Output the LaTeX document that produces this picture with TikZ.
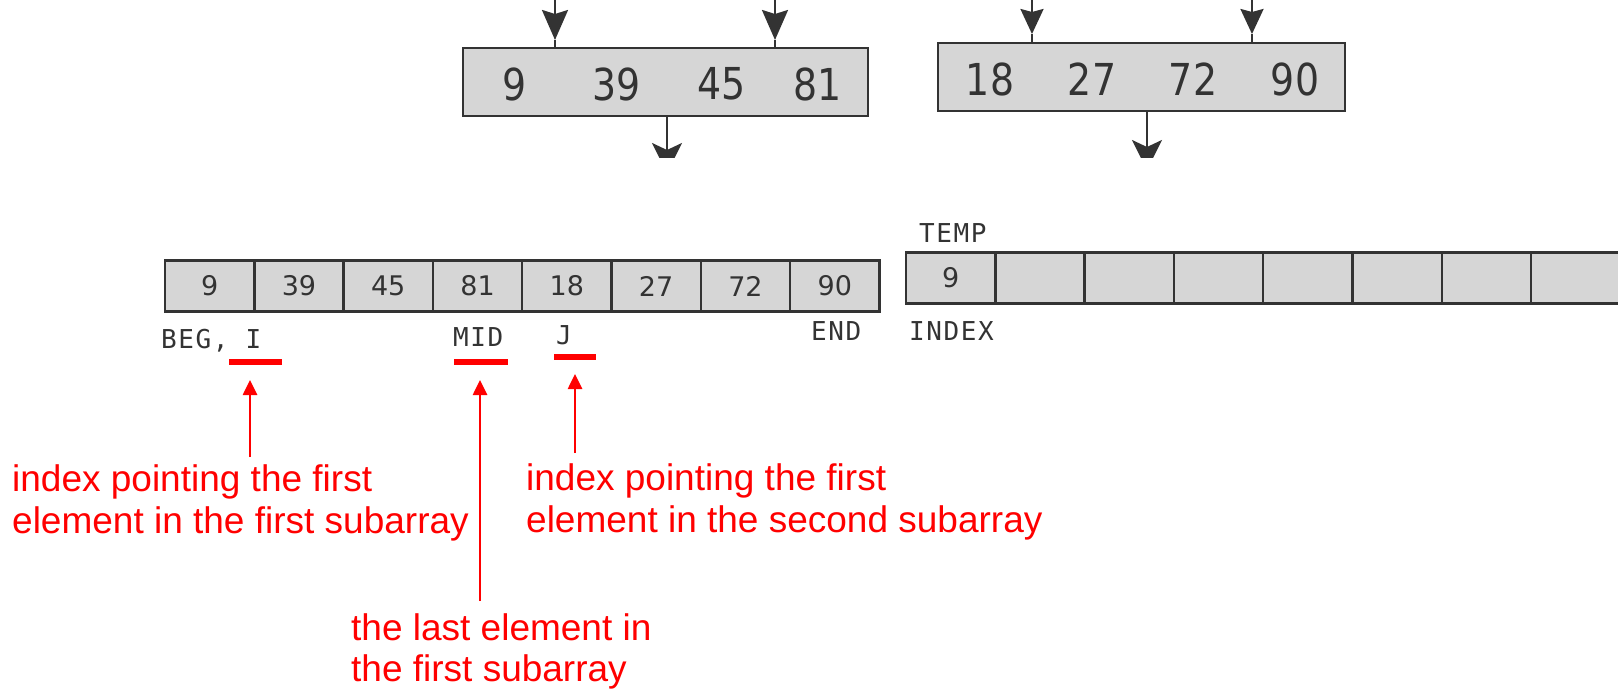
\documentclass[tikz,border=0pt]{standalone}
\usepackage{fontspec}
\setmainfont{Liberation Sans}
\newfontfamily\numfont{DejaVu Sans}
\newfontfamily\numcondfont[FakeStretch=0.86]{DejaVu Sans}
\newfontfamily\labfont[LetterSpace=6]{DejaVu Sans Mono}
\usetikzlibrary{arrows.meta}
\definecolor{ink}{HTML}{333333}
\definecolor{cellfill}{HTML}{D6D6D6}
\definecolor{note}{HTML}{FF0000}
\begin{document}
\begin{tikzpicture}[x=1pt,y=-1pt,
  cell/.style={draw=ink, line width=2.4pt, fill=cellfill,
    minimum width=89.3pt, minimum height=51pt, inner sep=0pt,
    text=ink, font={\numfont\fontsize{27pt}{30pt}\selectfont}},
  bigbox/.style={draw=ink, line width=2.6pt, fill=cellfill,
    minimum height=68pt, inner sep=0pt},
  bignum/.style={inner sep=0pt, text=ink,
    font={\numcondfont\fontsize{44pt}{48pt}\selectfont}},
  lab/.style={inner sep=0pt, anchor=base west, text=ink,
    font={\labfont\fontsize{26pt}{30pt}\selectfont}},
  feedhead/.style={draw=ink, line width=2.4pt,
    -{Stealth[length=30pt,width=26pt,inset=4pt]}},
  feedline/.style={draw=ink, line width=2.4pt},
  uline/.style={fill=note, draw=none, inner sep=0pt, minimum height=5.5pt},
  pointer/.style={draw=note, line width=2.6pt,
    -{Triangle[length=15pt,width=14pt]}},
  remark/.style={inner sep=0pt, anchor=base west, text=note,
    font={\fontsize{37pt}{42pt}\selectfont}}
]
\clip (0,0) rectangle (1618,691);

% ---- the two sorted subarrays ----
\node[bigbox, minimum width=405pt] (topL) at (665.5,82) {};
\node[bignum] (nL1) at (515,84) {9};
\node[bignum] (nL2) at (617,84) {39};
\node[bignum] (nL3) at (722,84) {45};
\node[bignum] (nL4) at (818,84) {81};

\node[bigbox, minimum width=407pt] (topR) at (1141.5,77) {};
\node[bignum] (nR1) at (990,79) {18};
\node[bignum] (nR2) at (1092,79) {27};
\node[bignum] (nR3) at (1193,79) {72};
\node[bignum] (nR4) at (1295,79) {90};

% incoming arrows above the subarrays
\coordinate (inL1) at (555,-3);  \coordinate (hL1) at (555,40);
\coordinate (inL2) at (775,-3);  \coordinate (hL2) at (775,40);
\coordinate (inR1) at (1032,-3); \coordinate (hR1) at (1032,34);
\coordinate (inR2) at (1252,-3); \coordinate (hR2) at (1252,34);
\draw[feedhead] (inL1) -- (hL1);
\draw[feedhead] (inL2) -- (hL2);
\draw[feedhead, -{Stealth[length=25pt,width=23pt,inset=3pt]}] (inR1) -- (hR1);
\draw[feedhead, -{Stealth[length=25pt,width=23pt,inset=3pt]}] (inR2) -- (hR2);
\draw[feedline] (hL1) -- (hL1 |- topL.north);
\draw[feedline] (hL2) -- (hL2 |- topL.north);
\draw[feedline] (hR1) -- (hR1 |- topR.north);
\draw[feedline] (hR2) -- (hR2 |- topR.north);

% outgoing arrows, cut off by the edge of the strip
\coordinate (outL) at (667,173);
\coordinate (outR) at (1147,170);
\begin{scope}
  \clip (0,0) rectangle (1618,157);
  \draw[feedhead, -{Stealth[length=30pt,width=30pt,inset=7pt]}] (topL.south -| outL) -- (outL);
  \draw[feedhead, -{Stealth[length=30pt,width=30pt,inset=7pt]}] (topR.south -| outR) -- (outR);
\end{scope}

% ---- merged array ----
\foreach \v [count=\i] in {9,39,45,81,18,27,72,90}
  \node[cell] (A\i) at ({165+89.3*(\i-0.5)},286) {\v};

% ---- temporary array ----
\foreach \v [count=\i] in {9,,,,,,,}
  \node[cell] (T\i) at ({906+89.3*(\i-0.5)},278) {\v};

% index labels
\node[lab] (beg) at (161,348) {BEG, I};
\node[lab] (mid) at (453,346) {MID};
\node[lab] (jj)  at (556,344) {J};
\node[lab] (end) at (811,340) {END};
\node[lab] (idx) at (909,340) {INDEX};
\node[lab] (tmp) at (919,242) {TEMP};

% highlight bars under I, MID and J
\node[uline, minimum width=53pt] (uI) at (255.5,362) {};
\node[uline, minimum width=54pt] (uM) at (480.5,362) {};
\node[uline, minimum width=42pt] (uJ) at (575,357) {};

% explanations
\node[remark] (r1a) at (12,491)  {index pointing the first};
\node[remark] (r1b) at (12,533)  {element in the first subarray};
\node[remark] (r2a) at (526,490) {index pointing the first};
\node[remark] (r2b) at (526,532) {element in the second subarray};
\node[remark] (r3a) at (351,640) {the last element in};
\node[remark] (r3b) at (351,681) {the first subarray};

\coordinate (pI) at (250,457); \coordinate (tI) at (250,380);
\coordinate (pM) at (480,601); \coordinate (tM) at (480,380);
\coordinate (pJ) at (575,453); \coordinate (tJ) at (575,374);
\draw[pointer] (pI) -- (tI);
\draw[pointer] (pM) -- (tM);
\draw[pointer] (pJ) -- (tJ);
\end{tikzpicture}
\end{document}
